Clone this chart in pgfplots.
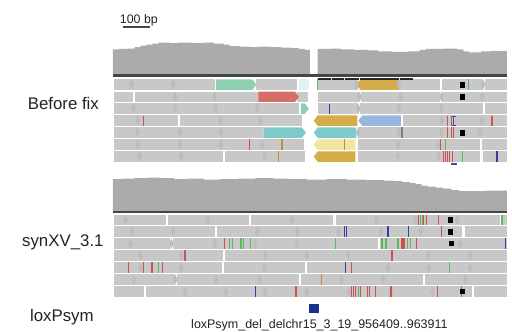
\documentclass[border=0pt]{standalone}
\usepackage{pgfplots}
\pgfplotsset{compat=1.18}
\usepackage{fontspec}
\setmainfont{Liberation Sans}
\definecolor{rd}{HTML}{C8C8C8}
\definecolor{cov}{HTML}{ABABAB}
\definecolor{dk}{HTML}{454545}
\definecolor{dia}{HTML}{BDBDBD}
\definecolor{cgreen}{HTML}{8ECFB1}
\definecolor{cred}{HTML}{D56E68}
\definecolor{ccyan}{HTML}{E2F1F2}
\definecolor{cgold}{HTML}{D4AC4A}
\definecolor{cblue}{HTML}{96B7DE}
\definecolor{cteal}{HTML}{7DCBC8}
\definecolor{cyel}{HTML}{EFE6A2}
\definecolor{mr}{HTML}{D05050}
\definecolor{mg}{HTML}{5CB85C}
\definecolor{mb}{HTML}{3A3AA0}
\definecolor{mo}{HTML}{C8873A}
\definecolor{mp}{HTML}{5B3FA0}
\definecolor{navy}{HTML}{1A2F8F}
\definecolor{txt}{HTML}{222222}
\begin{document}
\begin{tikzpicture}
\begin{axis}[
  scale only axis, width=512pt, height=335pt,
  xmin=0, xmax=512, ymin=0, ymax=335, y dir=reverse,
  hide axis, clip=false, unbounded coords=jump,
  mm/.style={only marks, mark=|, mark size=5.2, mark options={line width=1.3pt}},
  dd/.style={only marks, mark=diamond*, mark size=4.6, color=dia, mark options={xscale=0.65}},
]
\path (rel axis cs:0,0) rectangle (rel axis cs:1,1);
% ---------- coverage, top ----------
\addplot[fill=cov, draw=none] coordinates {(114,75)(114,50)(120,50)(120,49.5)(128,49.5)(128,49)(136,49)(136,47.5)(142,47.5)(142,46)(148,46)(148,45)(154,45)(154,44)(160,44)(160,43)(172,43)(172,43.5)(180,43.5)(180,43)(195,43)(195,43.5)(206,43.5)(206,43)(216,43)(216,44)(226,44)(226,45)(232,45)(232,46.5)(242,46.5)(242,47)(252,47)(252,47.5)(262,47.5)(262,47)(272,47)(272,47.5)(284,47.5)(284,48)(294,48)(294,48.5)(302,48.5)(302,49.5)(308,49.5)(308,50.5)(313,50.5)(313,75)} -- cycle;
\addplot[fill=cov, draw=none] coordinates {(321,75)(321,49.5)(334,49.5)(334,49)(344,49)(344,50)(358,50)(358,50.5)(372,50.5)(372,51)(382,51)(382,52)(396,52)(396,52.5)(412,52.5)(412,52)(424,52)(424,50.5)(430,50.5)(430,49.5)(448,49.5)(448,49)(462,49)(462,50)(468,50)(468,52)(474,52)(474,53)(486,53)(486,52)(496,52)(496,51.5)(512,51.5)(512,75)} -- cycle;
\addplot[line width=2.5pt, color=dk] coordinates {(114,76.2)(512,76.2)};
% ---------- reads, top ----------
\addplot[line width=10.5pt, color=rd] coordinates {(115,85.5)(217,85.5)(nan,nan)(259,85.5)(300,85.5)(nan,nan)(321,85.5)(362,85.5)(nan,nan)(403,85.5)(445,85.5)(nan,nan)(447,85.5)(488,85.5)(nan,nan)(490,85.5)(512,85.5)};
\addplot[line width=10.5pt, color=rd] coordinates {(115,97.7)(134,97.7)(nan,nan)(136,97.7)(262,97.7)(nan,nan)(300,97.7)(311,97.7)(nan,nan)(321,97.7)(363,97.7)(nan,nan)(364.5,97.7)(445,97.7)(nan,nan)(447,97.7)(512,97.7)};
\addplot[line width=10.5pt, color=rd] coordinates {(115,109.8)(302,109.8)(nan,nan)(321,109.8)(362,109.8)(nan,nan)(363.5,109.8)(488,109.8)(nan,nan)(489.5,109.8)(512,109.8)};
\addplot[line width=10.5pt, color=rd] coordinates {(115,121.9)(180,121.9)(nan,nan)(182,121.9)(305,121.9)(nan,nan)(407,121.9)(512,121.9)};
\addplot[line width=10.5pt, color=rd] coordinates {(115,134)(266,134)(nan,nan)(362,134)(512,134)};
\addplot[line width=10.5pt, color=rd] coordinates {(115,146.1)(307,146.1)(nan,nan)(362,146.1)(485,146.1)(nan,nan)(487,146.1)(512,146.1)};
\addplot[line width=10.5pt, color=rd] coordinates {(115,158.2)(225,158.2)(nan,nan)(227,158.2)(308,158.2)(nan,nan)(362,158.2)(485,158.2)(nan,nan)(488,158.2)(512,158.2)};
\addplot[dd] coordinates {(133,85.5)(175,85.5)(360,85.5)(403,85.5)(488,85.5)(177,97.7)(217,97.7)(363,97.7)(405,97.7)(446,97.7)(487,97.7)(135,109.8)(177,109.8)(218,109.8)(260,109.8)(362,109.8)(403,109.8)(446,109.8)(139,121.9)(223,121.9)(263,121.9)(446,121.9)(487,121.9)(139,134)(182,134)(223,134)(362,134)(403,134)(446,134)(485,134)(139,146.1)(182,146.1)(223,146.1)(265,146.1)(402,146.1)(443,146.1)(141,158.2)(183,158.2)(267,158.2)(402,158.2)(443,158.2)};
% coloured reads
\addplot[fill=cgreen, draw=none] coordinates {(218,80.25)(255,80.25)(259,85.5)(255,90.75)(218,90.75)} -- cycle;
\addplot[fill=ccyan, draw=none] coordinates {(302,80.25)(312,80.25)(312,90.75)(302,90.75)} -- cycle;
\addplot[fill=cgold, draw=none] coordinates {(360,85.5)(364,80.25)(403,80.25)(403,90.75)(364,90.75)} -- cycle;
\addplot[fill=cred, draw=none] coordinates {(261,92.45)(298,92.45)(302,97.7)(298,102.95)(261,102.95)} -- cycle;
\addplot[fill=cgreen, draw=none] coordinates {(304,104.55)(308,104.55)(312,109.8)(308,115.05)(304,115.05)} -- cycle;
\addplot[fill=cgold, draw=none] coordinates {(317,121.9)(321,116.65)(361,116.65)(361,127.15)(321,127.15)} -- cycle;
\addplot[fill=cblue, draw=none] coordinates {(362,121.9)(366,116.65)(405,116.65)(405,127.15)(366,127.15)} -- cycle;
\addplot[fill=cteal, draw=none] coordinates {(266,128.75)(305,128.75)(309,134)(305,139.25)(266,139.25)} -- cycle;
\addplot[fill=cteal, draw=none] coordinates {(317,134)(321,128.75)(360,128.75)(360,139.25)(321,139.25)} -- cycle;
\addplot[fill=cyel, draw=none] coordinates {(317,146.1)(321,140.85)(359,140.85)(359,151.35)(321,151.35)} -- cycle;
\addplot[fill=cgold, draw=none] coordinates {(317,158.2)(321,152.95)(359,152.95)(359,163.45)(321,163.45)} -- cycle;
% insertion bars under the axis line
\addplot[line width=1.8pt, color=black!85] coordinates {(321,79.8)(334,79.8)(nan,nan)(335,79.8)(348,79.8)(nan,nan)(349,79.8)(363,79.8)(nan,nan)(364,79.8)(403,79.8)(nan,nan)(404,79.8)(417,79.8)};
% mismatches, top
\addplot[mm, color=mr] coordinates {(145,121.9)(452,121.9)(456,121.9)(497,121.9)(452,134)(456,134)(458,134)(252,146.1)(445,146.1)(448,158.2)(450,158.2)(452,158.2)(454,158.2)(457,158.2)};
\addplot[mm, color=mg] coordinates {(321,85.5)(473,85.5)(450,146.1)(467,158.2)};
\addplot[mm, color=mb] coordinates {(333,109.8)(502,158.2)};
\addplot[mm, color=mo] coordinates {(285,146.1)(348,146.1)(281,158.2)};
\addplot[mm, color=gray] coordinates {(406,134)};
\addplot[mm, color=mp, mark size=4.5] coordinates {(458,121.9)};
\addplot[line width=1.2pt, color=mp] coordinates {(455.5,117.3)(460.5,117.3)(nan,nan)(455.5,126.5)(460.5,126.5)};
\addplot[line width=2pt, color=mp] coordinates {(456,165.5)(462,165.5)};
\addplot[only marks, mark=square*, mark size=2.2, color=black] coordinates {(467,85.5)(467,97.7)(467,134)};
% ---------- coverage, bottom ----------
\addplot[fill=cov, draw=none] coordinates {(114,213)(114,181)(124,181)(124,180.5)(136,180.5)(136,180)(150,180)(150,179.5)(162,179.5)(162,180)(176,180)(176,181)(190,181)(190,180.5)(206,180.5)(206,181.5)(222,181.5)(222,181)(240,181)(240,180.5)(258,180.5)(258,180)(276,180)(276,180.5)(292,180.5)(292,181)(310,181)(310,181.5)(330,181.5)(330,181)(350,181)(350,181.5)(370,181.5)(370,182)(388,182)(388,182.5)(398,182.5)(398,183)(406,183)(406,184)(414,184)(414,185)(420,185)(420,186)(426,186)(426,187.5)(432,187.5)(432,188.5)(440,188.5)(440,189.5)(448,189.5)(448,190.5)(456,190.5)(456,192)(464,192)(464,193)(490,193)(490,192.5)(512,192.5)(512,213)} -- cycle;
\addplot[line width=2.5pt, color=dk] coordinates {(114,214)(512,214)};
% ---------- reads, bottom ----------
\addplot[line width=10.5pt, color=rd] coordinates {(115,222)(168,222)(nan,nan)(170,222)(252,222)(nan,nan)(254,222)(336,222)(nan,nan)(339,222)(505,222)(nan,nan)(507,222)(512,222)};
\addplot[line width=10.5pt, color=rd] coordinates {(115,234)(217,234)(nan,nan)(219,234)(467,234)(nan,nan)(470,234)(512,234)};
\addplot[line width=10.5pt, color=rd] coordinates {(115,246)(172,246)(nan,nan)(175,246)(382,246)(nan,nan)(383.5,246)(512,246)};
\addplot[line width=10.5pt, color=rd] coordinates {(115,258.2)(225,258.2)(nan,nan)(227,258.2)(512,258.2)};
\addplot[line width=10.5pt, color=rd] coordinates {(115,270.3)(224,270.3)(nan,nan)(226,270.3)(308,270.3)(nan,nan)(310,270.3)(512,270.3)};
\addplot[line width=10.5pt, color=rd] coordinates {(115,282.4)(177,282.4)(nan,nan)(179,282.4)(302,282.4)(nan,nan)(304,282.4)(427,282.4)(nan,nan)(429,282.4)(512,282.4)};
\addplot[line width=10.5pt, color=rd] coordinates {(115,294.5)(145,294.5)(nan,nan)(147,294.5)(477,294.5)(nan,nan)(479,294.5)(512,294.5)};
\addplot[dd] coordinates {(127,222)(210,222)(295,222)(380,222)(420,222)(462,222)(133,234)(175,234)(260,234)(300,234)(342,234)(385,234)(425,234)(132,246)(173,246)(217,246)(258,246)(300,246)(465,246)(142,258.2)(183,258.2)(268,258.2)(310,258.2)(352,258.2)(433,258.2)(475,258.2)(142,270.3)(183,270.3)(267,270.3)(392,270.3)(433,270.3)(475,270.3)(135,282.4)(177,282.4)(218,282.4)(262,282.4)(345,282.4)(387,282.4)(470,282.4)(187,294.5)(228,294.5)(268,294.5)(310,294.5)(353,294.5)(395,294.5)(437,294.5)};
% mismatches, bottom
\addplot[mm, color=mr] coordinates {(423,222)(428,222)(431,222)(443,222)(446,234)(227,246)(406,246)(408,246)(421,246)(187,258.2)(396,258.2)(130,270.3)(145,270.3)(153,270.3)(154,270.3)(164,270.3)(355,270.3)(299,294.5)(355,294.5)(357,294.5)(359,294.5)(364,294.5)(371,294.5)(373,294.5)(379,294.5)(395,294.5)(442,294.5)(466,294.5)};
\addplot[mm, color=mg] coordinates {(425,222)(427,222)(507,222)(232,246)(235,246)(243,246)(244.3,246)(246.3,246)(253,246)(339,246)(386,246)(390,246)(402,246)(412,246)(415,246)(160,270.3)(454,270.3)(362,294.5)};
\addplot[mm, color=mb] coordinates {(348,234)(349.8,234)(392,234)(413,234)(511,246)(349,270.3)(258,294.5)};
\addplot[mm, color=mo] coordinates {(325,282.4)};
\addplot[only marks, mark=square*, mark size=2.2, color=black] coordinates {(455,222)(455,234)(456,246)(467,294.5)};
% ---------- loxPsym feature ----------
\addplot[fill=navy, draw=none] coordinates {(312,307)(322,307)(322,316)(312,316)} -- cycle;
% scale bar
\addplot[line width=2pt, color=dk] coordinates {(124,27.5)(152,27.5)};
% labels
\node[anchor=base west, inner sep=0, text=txt, font=\fontsize{12.5}{14}\selectfont] at (axis cs:121,24) {100 bp};
\node[anchor=base, inner sep=0, text=txt, font=\fontsize{17}{20}\selectfont] at (axis cs:64,111) {Before fix};
\node[anchor=base, inner sep=0, text=txt, font=\fontsize{17}{20}\selectfont] at (axis cs:63.5,249.3) {synXV\_3.1};
\node[anchor=base, inner sep=0, text=txt, font=\fontsize{17}{20}\selectfont] at (axis cs:62.5,325) {loxPsym};
\node[anchor=base west, inner sep=0, text=txt, font=\fontsize{12.6}{14}\selectfont] at (axis cs:193,331.7) {loxPsym\_del\_delchr15\_3\_19\_956409..963911};
\end{axis}
\end{tikzpicture}
\end{document}
